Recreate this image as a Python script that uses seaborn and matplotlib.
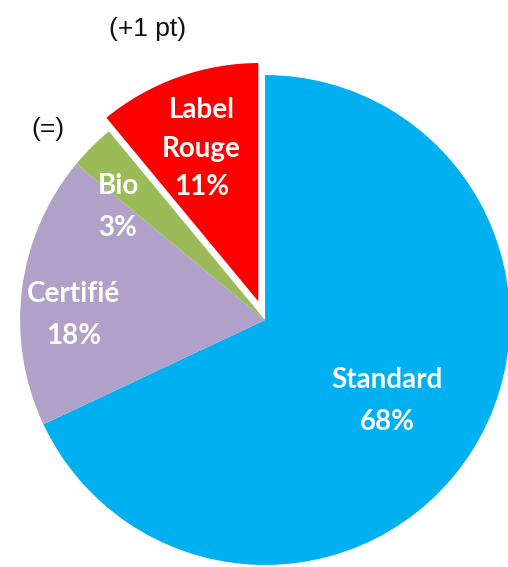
import numpy as np
import matplotlib
matplotlib.use("Agg")
import matplotlib.pyplot as plt
import seaborn as sns

# data
categories = ["Standard", "Certifié", "Bio", "Label\nRouge"]
shares = [68, 18, 3, 11]
colors = ["#00B0F0", "#B1A0C7", "#9BBB59", "#FF0000"]
explode = [0, 0, 0, 0.06]
notes = ["(+1 pt)", "(=)"]

sns.set_theme(style="white")
plt.rcParams["font.family"] = ["Lato", "DejaVu Sans"]

fig = plt.figure(figsize=(5.08, 5.67), dpi=100)
ax = fig.add_axes([0, 0, 1, 1])

wedges, texts = ax.pie(shares, labels=[f"{c}\n{s}%" for c, s in zip(categories, shares)],
                       colors=colors, explode=explode, startangle=90, counterclock=False,
                       labeldistance=0.75, wedgeprops=dict(linewidth=0),
                       textprops=dict(color="white", fontsize=20, fontweight="bold",
                                      ha="center", va="center"))
wedges[3].set_edgecolor("white")
wedges[3].set_linewidth(2.5)

# label positions tweaked like the original
texts[0].set_position((0.50, -0.33))
texts[1].set_position((-0.78, 0.02))
texts[2].set_position((-0.60, 0.46))
texts[3].set_position((-0.26, 0.70))
for t in texts:
    t.set_ha("center")
    t.set_linespacing(1.75)
texts[3].set_linespacing(1.6)

ax.text(-0.478, 1.19, notes[0], ha="center", va="center", fontsize=19,
        color="#111111", family=["Liberation Sans", "DejaVu Sans"])
ax.text(-0.886, 0.78, notes[1], ha="center", va="center", fontsize=19,
        color="#111111", family=["Liberation Sans", "DejaVu Sans"])

ax.set_xlim(-1.082, 0.992)
ax.set_ylim(-1.008, 1.306)
ax.set_aspect("equal")
ax.axis("off")

fig.savefig("out.png", dpi=100)
